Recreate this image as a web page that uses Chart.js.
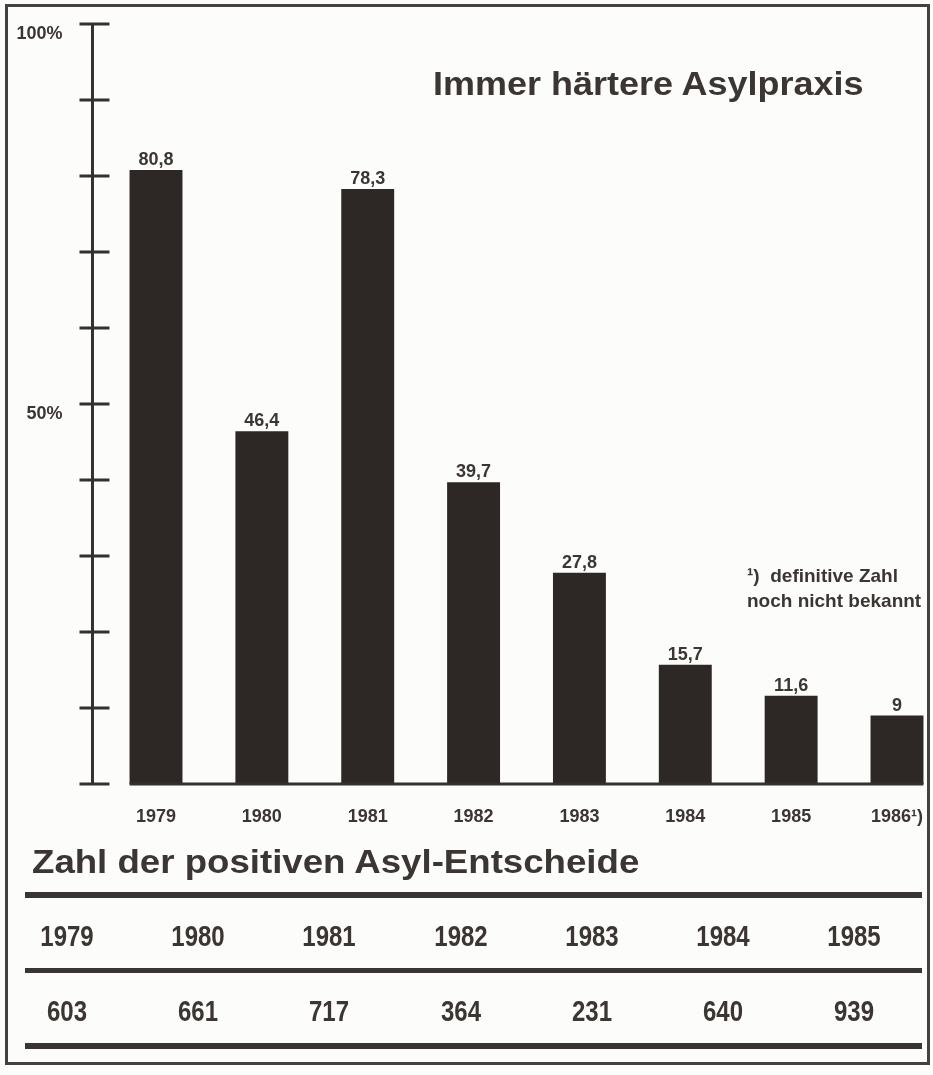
<!DOCTYPE html>
<html>
<head>
<meta charset="utf-8">
<script src="https://cdn.jsdelivr.net/npm/chart.js@4"></script>
<style>
  html, body { margin: 0; padding: 0; background: #fcfcfa; }
  #wrap { position: relative; width: 933px; height: 1075px; overflow: hidden; }
  #chart { position: absolute; left: 0; top: 0; }
  .frame { position: absolute; left: 5px; top: 4px; width: 925px; height: 1061px;
    box-sizing: border-box; border: 3px solid #45413e; }
  .txt { position: absolute; color: #3b3633; white-space: nowrap;
    font-family: "Liberation Sans", Arial, sans-serif; font-weight: bold; }
  .rule { position: absolute; left: 25px; width: 897px; background: #3a3532; }
  .cell { position: absolute; width: 120px; text-align: center; font-size: 30px; line-height: 28px;
    transform: scaleX(0.8); }
</style>
</head>
<body>
<div id="wrap">
  <canvas id="chart" width="933" height="1075"></canvas>
  <div class="frame"></div>
  <div class="txt" style="left:433px; top:67px; font-size:33px; line-height:33px; transform:scaleX(1.09); transform-origin:0 0;">Immer härtere Asylpraxis</div>
  <div class="txt" style="left:747px; top:563px; font-size:19px; line-height:25px;">¹)&nbsp; definitive Zahl<br>noch nicht bekannt</div>
  <div class="txt" style="left:32px; top:845px; font-size:33px; line-height:33px; transform:scaleX(1.11); transform-origin:0 0;">Zahl der positiven Asyl-Entscheide</div>
  <div class="rule" style="top:892px; height:6px;"></div>
  <div class="rule" style="top:968px; height:5px;"></div>
  <div class="rule" style="top:1043px; height:6px;"></div>
  <div id="table"></div>
</div>
<script>
// Anteil der positiven Asylentscheide in %
const years = ["1979", "1980", "1981", "1982", "1983", "1984", "1985", "1986¹)"];
const percent = [80.8, 46.4, 78.3, 39.7, 27.8, 15.7, 11.6, 9];
const yTickValues = [50, 100];
const yTickLabels = ["50%", "100%"];

// Zahl der positiven Asyl-Entscheide
const tableYears = ["1979", "1980", "1981", "1982", "1983", "1984", "1985"];
const tableCounts = [603, 661, 717, 364, 231, 640, 939];

const ink = "#3b3633";
const barColor = "#2d2826";
const fontFamily = '"Liberation Sans", Arial, sans-serif';

// table below the chart
const table = document.getElementById("table");
for (let i = 0; i < tableYears.length; i++) {
  const cx = 67 + i * 131.2;
  const y = document.createElement("div");
  y.className = "txt cell";
  y.style.left = (cx - 60) + "px";
  y.style.top = "922px";
  y.textContent = tableYears[i];
  table.appendChild(y);
  const c = document.createElement("div");
  c.className = "txt cell";
  c.style.left = (cx - 60) + "px";
  c.style.top = "997px";
  c.textContent = tableCounts[i];
  table.appendChild(c);
}

// axis with dashes, y labels, baseline and values above the bars
const decorPlugin = {
  id: "decor",
  afterDatasetsDraw(chart) {
    const ctx = chart.ctx;
    const x = chart.scales.x;
    const y = chart.scales.y;
    const step = x.getPixelForValue(1) - x.getPixelForValue(0);
    const axisX = x.getPixelForValue(0) - 0.6 * step;
    ctx.save();
    ctx.strokeStyle = "#35302d";
    ctx.lineWidth = 3;
    ctx.beginPath();
    ctx.moveTo(axisX, y.getPixelForValue(100));
    ctx.lineTo(axisX, y.getPixelForValue(0));
    ctx.stroke();
    for (let v = 0; v <= 100; v += 10) {
      const py = y.getPixelForValue(v);
      ctx.beginPath();
      ctx.moveTo(axisX - 13, py);
      ctx.lineTo(axisX + 17, py);
      ctx.stroke();
    }
    const bars = chart.getDatasetMeta(0).data;
    const first = bars[0], last = bars[bars.length - 1];
    ctx.beginPath();
    ctx.moveTo(first.x - first.width / 2, y.getPixelForValue(0));
    ctx.lineTo(last.x + last.width / 2, y.getPixelForValue(0));
    ctx.stroke();

    ctx.fillStyle = ink;
    ctx.font = "bold 18px " + fontFamily;
    ctx.textAlign = "right";
    ctx.textBaseline = "middle";
    yTickValues.forEach((v, i) => {
      ctx.fillText(yTickLabels[i], axisX - 30, y.getPixelForValue(v) + 10);
    });

    ctx.textAlign = "center";
    ctx.textBaseline = "alphabetic";
    bars.forEach((b, i) => {
      ctx.fillText(String(percent[i]).replace(".", ","), b.x, b.y - 5);
    });
    ctx.restore();
  }
};

new Chart(document.getElementById("chart"), {
  type: "bar",
  data: {
    labels: years,
    datasets: [{
      data: percent,
      backgroundColor: barColor,
      borderWidth: 0,
      categoryPercentage: 0.5,
      barPercentage: 1,
      clip: false
    }]
  },
  options: {
    responsive: false,
    animation: false,
    layout: { padding: { top: 24, right: 36, bottom: 0, left: 0 } },
    plugins: { legend: { display: false }, tooltip: { enabled: false } },
    scales: {
      x: {
        offset: false,
        grid: { display: false, drawTicks: false },
        border: { display: false },
        ticks: { color: ink, font: { family: fontFamily, size: 18, weight: "bold" }, padding: 22, maxRotation: 0 },
        afterFit: s => { s.height = 291; s.paddingLeft = 0; s.paddingRight = 0; }
      },
      y: {
        min: 0,
        max: 100,
        grid: { display: false, drawTicks: false },
        border: { display: false },
        ticks: { display: false, stepSize: 10 },
        afterFit: s => { s.width = 156; }
      }
    }
  },
  plugins: [decorPlugin]
});
</script>
</body>
</html>
